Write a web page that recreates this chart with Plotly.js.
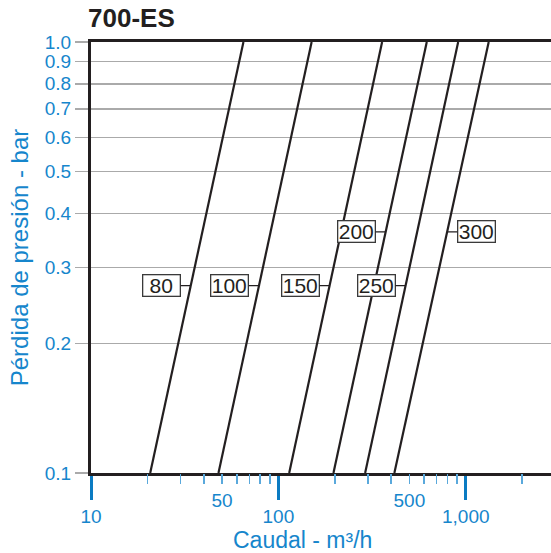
<!DOCTYPE html>
<html>
<head>
<meta charset="utf-8">
<script src="https://cdn.plot.ly/plotly-3.0.1.min.js"></script>
<style>html,body{margin:0;padding:0;background:#fff;}#chart{width:551px;height:553px;}</style>
</head>
<body>
<div id="chart"></div>
<script>
// ---- data ----
const sizes = ['80', '100', '150', '200', '250', '300'];
const pressureEnds = [0.1, 1.0];                              // bar
const flowAtLowP = [20.7, 47.9, 114.2, 196.8, 290.4, 416];   // m3/h at 0.1 bar
const flowAtHighP = [65.1, 150.5, 357.8, 619.4, 911, 1326];  // m3/h at 1.0 bar
const yTickVals = [0.1, 0.2, 0.3, 0.4, 0.5, 0.6, 0.7, 0.8, 0.9, 1.0];
const yTickText = ['0.1', '0.2', '0.3', '0.4', '0.5', '0.6', '0.7', '0.8', '0.9', '1.0'];
const xMajorVals = [10, 100, 1000];
const xMajorText = ['10', '100', '1,000'];
const xMinorVals = [20, 30, 40, 50, 60, 70, 80, 90, 200, 300, 400, 500, 600, 700, 800, 900, 2000];
const xMinorText = ['', '', '', '50', '', '', '', '', '', '', '', '500', '', '', '', '', ''];

// ---- styling ----
const FONT = 'Liberation Sans, Arial, Helvetica, sans-serif';
const BLUE = '#1686cc';
const INK = '#231f20';
// label placement: pressure level of the label box and side
const labelLevel = {'80': 0.2722, '100': 0.2722, '150': 0.2722, '250': 0.2722, '200': 0.3628, '300': 0.3628};
const labelSide = {'80': -1, '100': -1, '150': -1, '250': -1, '200': -1, '300': 1};

const traces = sizes.map((s, i) => ({
  type: 'scatter', mode: 'lines', name: s,
  x: [flowAtLowP[i], flowAtHighP[i]],
  y: pressureEnds,
  line: {color: INK, width: 2.2},
  hoverinfo: 'name+x+y', showlegend: false
}));
// invisible trace on the secondary (minor tick) axis
traces.push({type: 'scatter', mode: 'lines', x: [flowAtLowP[0]], y: [pressureEnds[0]], xaxis: 'x2', yaxis: 'y', showlegend: false, hoverinfo: 'skip', line: {width: 0}});

const lp0 = Math.log10(pressureEnds[0]), lp1 = Math.log10(pressureEnds[1]);
const annotations = sizes.map((s, i) => {
  const p = labelLevel[s];
  const t = (Math.log10(p) - lp0) / (lp1 - lp0);
  const lx = Math.log10(flowAtLowP[i]) + t * (Math.log10(flowAtHighP[i]) - Math.log10(flowAtLowP[i]));
  return {
    xref: 'x', yref: 'y', x: lx, y: Math.log10(p),
    text: s, showarrow: true, arrowhead: 0, arrowwidth: 1.2, arrowcolor: INK,
    ax: 29 * labelSide[s], ay: 0, standoff: 0, startstandoff: 0,
    font: {family: FONT, size: 21, color: INK},
    bgcolor: '#ffffff', bordercolor: '#3a3a3a', borderwidth: 1.3, borderpad: 0,
    width: 36, height: 20
  };
});
annotations.push({
  xref: 'paper', yref: 'paper', x: 0.4598, y: -0.1545, xanchor: 'center', yanchor: 'middle',
  text: 'Caudal - m³/h', showarrow: false, font: {family: FONT, size: 23, color: BLUE}
});

const layout = {
  width: 551, height: 553,
  margin: {l: 91, r: 0, t: 42, b: 80, pad: 0},
  paper_bgcolor: '#fff', plot_bgcolor: '#fff',
  font: {family: FONT, color: BLUE},
  title: {text: '700-ES', font: {family: FONT, size: 26, color: INK, weight: 'bold'},
          xref: 'container', yref: 'container', x: 88 / 551, xanchor: 'left', y: 1 - 18 / 553, yanchor: 'middle'},
  xaxis: {
    type: 'log', range: [1, 3.455], showgrid: false, zeroline: false,
    showline: true, linecolor: INK, linewidth: 3, mirror: true,
    tickmode: 'array', tickvals: xMajorVals, ticktext: xMajorText,
    ticks: 'outside', ticklen: 24, tickwidth: 3, tickcolor: '#0b7bc2',
    tickfont: {family: FONT, size: 19, color: BLUE}
  },
  xaxis2: {
    type: 'log', range: [1, 3.455], overlaying: 'x', anchor: 'y', side: 'bottom',
    showgrid: false, zeroline: false, showline: false,
    tickmode: 'array', tickvals: xMinorVals, ticktext: xMinorText,
    ticks: 'outside', ticklen: 10, tickwidth: 1.5, tickcolor: '#5aa9dc',
    tickfont: {family: FONT, size: 19, color: BLUE}
  },
  yaxis: {
    type: 'log', range: [-1, 0], zeroline: false,
    showline: true, linecolor: INK, linewidth: 3,
    showgrid: true, gridcolor: '#aaaaaa', gridwidth: 1.5,
    tickmode: 'array', tickvals: yTickVals, ticktext: yTickText,
    ticks: 'outside', ticklen: 13, tickwidth: 1.5, tickcolor: '#aaaaaa',
    tickfont: {family: FONT, size: 19, color: BLUE},
    title: {text: 'Pérdida de presión - bar', font: {family: FONT, size: 24, color: BLUE}, standoff: 10}
  },
  annotations: annotations
};

Plotly.newPlot('chart', traces, layout, {displayModeBar: false, staticPlot: true});
</script>
</body>
</html>
